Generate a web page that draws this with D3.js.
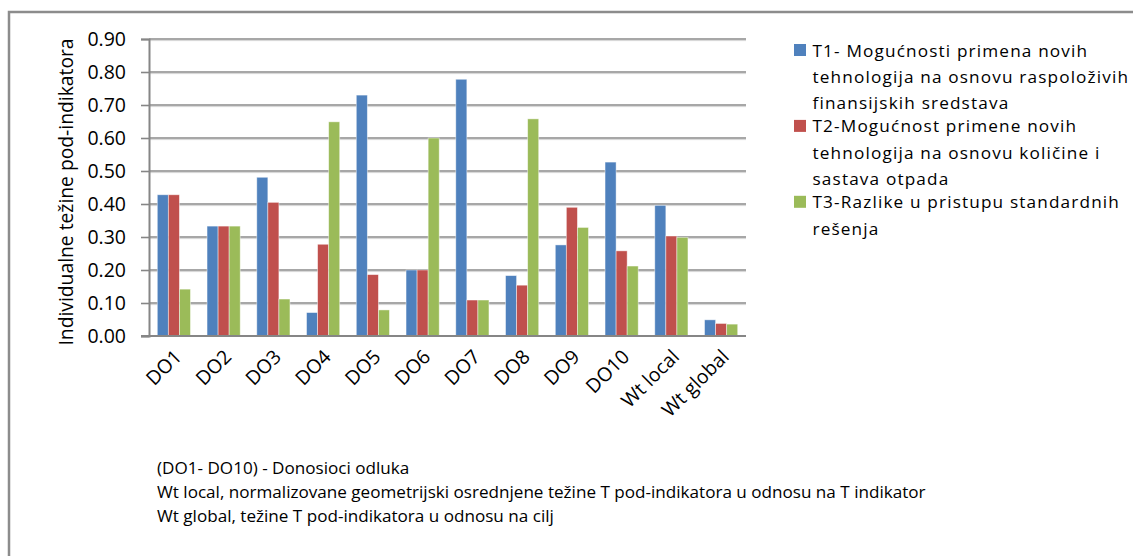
<!DOCTYPE html>
<html>
<head>
<meta charset="utf-8">
<script src="https://cdn.jsdelivr.net/npm/d3@7"></script>
<style>
  html, body { margin: 0; padding: 0; background: #fff; }
  svg { display: block; font-family: "Open Sans", "Noto Sans", sans-serif; }
</style>
</head>
<body>
<svg id="chart" width="1133" height="556"></svg>
<script>
// Decision makers plus the aggregated local / global weights
const categories = ["DO1", "DO2", "DO3", "DO4", "DO5", "DO6", "DO7", "DO8", "DO9", "DO10", "Wt local", "Wt global"];

const seriesNames = [
  "T1- Mogućnosti primena novih tehnologija na osnovu raspoloživih finansijskih sredstava",
  "T2-Mogućnost primene novih tehnologija na osnovu količine i sastava otpada",
  "T3-Razlike u pristupu standardnih rešenja"
];

// Legend text broken into lines the way it is laid out
const legendLines = [
  ["T1- Mogućnosti primena novih", "tehnologija na osnovu raspoloživih", "finansijskih sredstava"],
  ["T2-Mogućnost primene novih", "tehnologija na osnovu količine i", "sastava otpada"],
  ["T3-Razlike u pristupu standardnih", "rešenja"]
];

const t1Values = [0.428, 0.333, 0.481, 0.071, 0.730, 0.200, 0.778, 0.183, 0.276, 0.527, 0.396, 0.049];
const t2Values = [0.428, 0.333, 0.405, 0.278, 0.186, 0.200, 0.109, 0.154, 0.390, 0.258, 0.303, 0.038];
const t3Values = [0.142, 0.333, 0.112, 0.649, 0.079, 0.600, 0.109, 0.658, 0.329, 0.212, 0.299, 0.036];

const yTicks = [0, 0.1, 0.2, 0.3, 0.4, 0.5, 0.6, 0.7, 0.8, 0.9];

const footnotes = [
  "(DO1- DO10) - Donosioci odluka",
  "Wt local, normalizovane geometrijski osrednjene težine T pod-indikatora u odnosu na T indikator",
  "Wt global, težine T pod-indikatora u odnosu na cilj"
];

const yTitle = "Individualne težine pod-indikatora";

const colors = ["#4F81BD", "#C0504D", "#9BBB59"];
const allSeries = [t1Values, t2Values, t3Values];

const svg = d3.select("#chart");

// outer chart frame (runs past the right and bottom edges)
svg.append("rect")
  .attr("x", 9).attr("y", 12)
  .attr("width", 1200).attr("height", 600)
  .attr("fill", "none")
  .attr("stroke", "#8c8c8c")
  .attr("stroke-width", 2.5);

const plot = { left: 149, right: 746, top: 39, bottom: 336 };

const x = d3.scaleBand()
  .domain(categories)
  .range([plot.left, plot.right])
  .paddingInner(0)
  .paddingOuter(0);

const y = d3.scaleLinear().domain([0, 0.9]).range([plot.bottom, plot.top]);

// horizontal gridlines with a faint shadow
const grid = svg.append("g");
grid.selectAll("line.shadow")
  .data(yTicks.slice(1))
  .join("line")
  .attr("class", "shadow")
  .attr("x1", plot.left).attr("x2", plot.right)
  .attr("y1", d => y(d) + 1.6).attr("y2", d => y(d) + 1.6)
  .attr("stroke", "#d4d4d4").attr("stroke-width", 1);
grid.selectAll("line.main")
  .data(yTicks.slice(1))
  .join("line")
  .attr("class", "main")
  .attr("x1", plot.left).attr("x2", plot.right)
  .attr("y1", d => y(d)).attr("y2", d => y(d))
  .attr("stroke", "#8a8a8a").attr("stroke-width", 1.6);

// clustered bars: three per category, 150% gap between clusters
const gap = 1.5;
const barW = x.bandwidth() / (allSeries.length + gap);
const groups = svg.append("g");
allSeries.forEach((vals, si) => {
  groups.append("g")
    .selectAll("rect")
    .data(vals)
    .join("rect")
    .attr("x", (d, i) => x(categories[i]) + barW * (gap / 2 + si))
    .attr("width", barW)
    .attr("y", d => y(d))
    .attr("height", d => y(0) - y(d))
    .attr("fill", colors[si])
    .attr("stroke", "rgba(255,255,255,0.55)")
    .attr("stroke-width", 0.8);
});

// y axis
const yAxis = d3.axisLeft(y)
  .tickValues(yTicks)
  .tickFormat(d3.format(".2f"))
  .tickSize(8)
  .tickPadding(15);
const gy = svg.append("g")
  .attr("transform", `translate(${plot.left},0)`)
  .call(yAxis);
gy.select(".domain").attr("stroke", "#868686").attr("stroke-width", 2);
gy.selectAll(".tick line").attr("stroke", "#868686").attr("stroke-width", 1.6);
gy.selectAll(".tick text")
  .attr("font-family", "Open Sans, sans-serif")
  .attr("font-size", 19.5)
  .attr("fill", "#000");

// x axis baseline
svg.append("line")
  .attr("x1", plot.left - 8).attr("x2", plot.right)
  .attr("y1", plot.bottom).attr("y2", plot.bottom)
  .attr("stroke", "#868686").attr("stroke-width", 2.2);

// rotated category labels
svg.append("g")
  .selectAll("text")
  .data(categories)
  .join("text")
  .attr("transform", d => `translate(${x(d) + x.bandwidth() / 2 + 9},${plot.bottom + 22}) rotate(-45)`)
  .attr("text-anchor", "end")
  .attr("font-size", 19.5)
  .attr("fill", "#000")
  .text(d => d);

// y axis title
svg.append("text")
  .attr("transform", `translate(73,192) rotate(-90)`)
  .attr("text-anchor", "middle")
  .attr("font-size", 19.3)
  .attr("fill", "#000")
  .text(yTitle);

// legend: square marker plus wrapped label lines
const legendFirstLine = [50, 125.9, 201.8];
const legendLineStep = 26.2;
const legend = svg.append("g");
legendLines.forEach((lines, si) => {
  const g = legend.append("g").attr("class", "legend-item").attr("data-name", seriesNames[si]);
  g.append("rect")
    .attr("x", 794).attr("y", legendFirstLine[si] - 6)
    .attr("width", 12).attr("height", 12)
    .attr("fill", colors[si]);
  lines.forEach((ln, li) => {
    g.append("text")
      .attr("x", 812.5)
      .attr("y", legendFirstLine[si] + li * legendLineStep + 6.5)
      .attr("font-size", 17.2)
      .attr("letter-spacing", 1.15)
      .attr("fill", "#000")
      .text(ln);
  });
});

// notes under the chart
svg.append("g")
  .selectAll("text")
  .data(footnotes)
  .join("text")
  .attr("x", 157)
  .attr("y", (d, i) => 474 + i * 24)
  .attr("font-size", 17.1)
  .attr("fill", "#000")
  .text(d => d);
</script>
</body>
</html>
